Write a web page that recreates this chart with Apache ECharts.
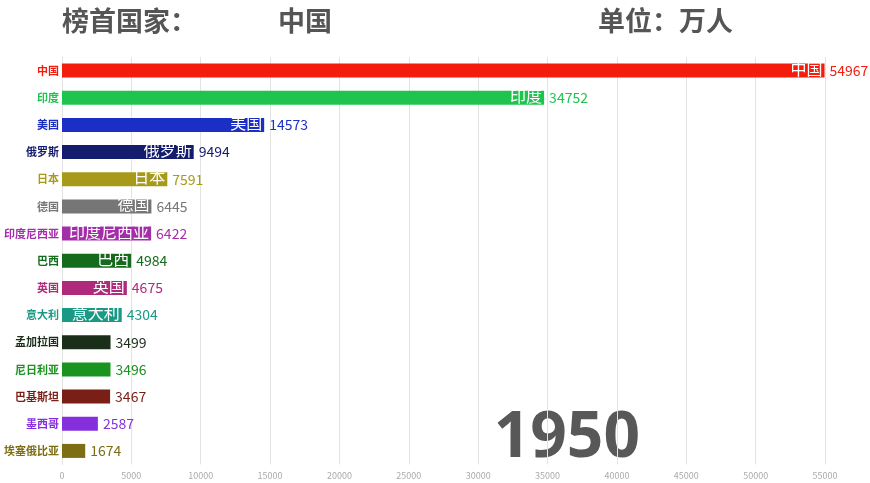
<!DOCTYPE html>
<html>
<head>
<meta charset="utf-8">
<script src="https://cdn.jsdelivr.net/npm/echarts@6/dist/echarts.min.js"></script>
<style>
html,body{margin:0;padding:0;background:#fff;}
#c{width:870px;height:483px;}
</style>
</head>
<body>
<div id="c"></div>
<script>
const countries = ['中国','印度','美国','俄罗斯','日本','德国','印度尼西亚','巴西','英国','意大利','孟加拉国','尼日利亚','巴基斯坦','墨西哥','埃塞俄比亚'];
const population = [54967,34752,14573,9494,7591,6445,6422,4984,4675,4304,3499,3496,3467,2587,1674];
const barColors = ['#f41c0c','#1fc44f','#1c2fc4','#141c6e','#a79a18','#767676','#a42ea9','#156b1c','#b02a7c','#1a9a84','#1a2e1a','#1a931f','#7a1f15','#8530dc','#7d6d14'];
const xTicks = [0,5000,10000,15000,20000,25000,30000,35000,40000,45000,50000,55000];
const year = '1950';
const leader = '中国';
const unit = '单位：万人';

const font = '"Noto Sans CJK SC","Noto Sans",sans-serif';
const chart = echarts.init(document.getElementById('c'), null, {renderer:'canvas'});
chart.setOption({
  backgroundColor:'#fff',
  animation:false,
  textStyle:{fontFamily:font},
  graphic:[
    {type:'text', left:62, top:7, style:{text:'榜首国家：', font:'bold 27px '+font, fill:'#555'}},
    {type:'text', left:278, top:7, style:{text:leader, font:'bold 27px '+font, fill:'#555'}},
    {type:'text', left:598, top:7, style:{text:unit, font:'bold 27px '+font, fill:'#555'}},
    {type:'text', right:230, top:407, z:0, style:{text:year, font:'bold 64px "Open Sans","DejaVu Sans",sans-serif', fill:'#585858'}}
  ],
  grid:{left:62, right:45, top:57, bottom:18.5, containLabel:false},
  xAxis:{
    type:'value', min:xTicks[0], max:xTicks[xTicks.length-1], interval:5000,
    axisLine:{show:false}, axisTick:{show:false},
    splitLine:{show:true, lineStyle:{color:'#e3e3e3', width:1}},
    axisLabel:{color:'#aaa', fontSize:9, margin:7, formatter:function(v){return String(v);}}
  },
  yAxis:{
    type:'category', data:countries, inverse:true,
    axisLine:{show:true, lineStyle:{color:'#e3e3e3'}}, axisTick:{show:false},
    axisLabel:{fontSize:11, fontWeight:'bold', margin:3,
      color:function(v,i){return barColors[countries.indexOf(v)];}}
  },
  series:[{
    type:'bar',
    barWidth:14,
    data:population.map((v,i)=>({value:v, itemStyle:{color:barColors[i]},
      label:{color:barColors[i]}})),
    label:{show:true, position:'right', fontSize:14, distance:5, fontFamily:font,
      formatter:'{c}'},
    z:3
  },{
    type:'bar',
    barWidth:14,
    barGap:'-100%',
    data:population.map((v,i)=>({value:v, itemStyle:{color:'transparent'}})),
    label:{show:true, position:'insideRight', fontSize:16, color:'#fff', distance:2, offset:[0,-2],
      fontFamily:font, formatter:function(p){return p.value >= 4000 ? countries[p.dataIndex] : '';}},
    z:4
  }]
});
</script>
</body>
</html>
